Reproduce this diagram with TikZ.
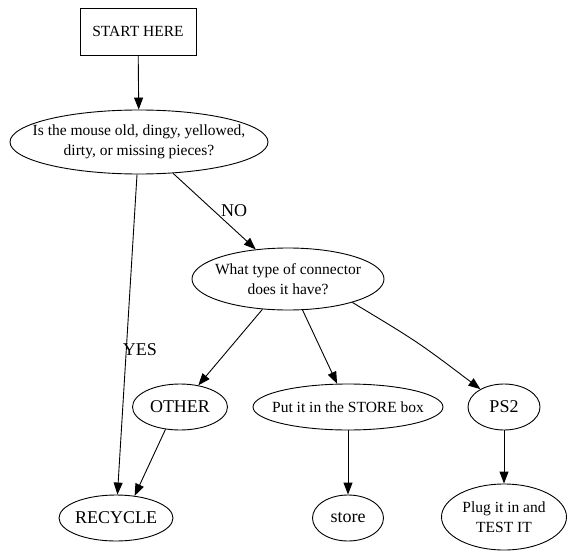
\documentclass[tikz,border=0pt]{standalone}
\usepackage{fontspec}
\setmainfont{Liberation Serif}
\usetikzlibrary{arrows.meta,shapes.geometric}

\begin{document}
\begin{tikzpicture}[x=1pt, y=-1pt, >={Triangle[length=12pt,width=9pt]},
  line width=0.9pt,
  txt/.style={font=\fontsize{15.5}{20}\selectfont, align=center},
  big/.style={font=\fontsize{18}{21}\selectfont},
  box/.style={draw, txt, minimum width=116pt, minimum height=47pt},
  oval/.style 2 args={draw, ellipse, inner xsep=-45pt, inner ysep=0pt,
    minimum width=#1pt, minimum height=#2pt}]
  \useasboundingbox (0,0) rectangle (575,559);
  \node[box] (start) at (138,31.5) {START HERE};
  \node[oval={258}{64}, txt] (mouse) at (139,142)
    {Is the mouse old, dingy, yellowed,\\dirty, or missing pieces?};
  \node[oval={192}{62}, txt] (type) at (288,279)
    {What type of connector\\does it have?};
  \node[oval={95}{46}, big] (other) at (180,407) {OTHER};
  \node[oval={190}{46}, txt] (storebox) at (348,407) {Put it in the STORE box};
  \node[oval={72}{46}, big] (ps2) at (504,407) {PS2};
  \node[oval={114}{46}, big] (recycle) at (116,518) {RECYCLE};
  \node[oval={71}{46}, big] (store) at (348,518) {store};
  \node[oval={125}{66}, txt] (plug) at (504,517) {Plug it in and\\TEST IT};
  \node[big] (yes) at (140,350) {YES};
  \node[big] (no) at (234,211) {NO};
  \draw[->] (start) -- (mouse);
  \draw[->] (mouse) -- (recycle);
  \draw[->] (mouse) -- (type);
  \draw[->] (type) -- (other);
  \draw[->] (type) -- (storebox);
  \draw[->] (type.-20) .. controls (418,342) .. (ps2);
  \draw[->] (other.-123) -- (recycle.50);
  \draw[->] (storebox) -- (store);
  \draw[->] (ps2) -- (plug);
\end{tikzpicture}
\end{document}
